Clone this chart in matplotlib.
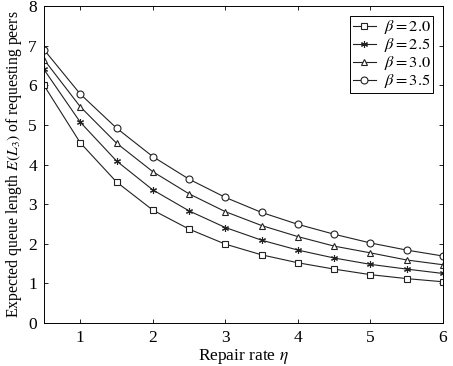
import matplotlib
matplotlib.use("Agg")
import matplotlib.pyplot as plt
import numpy as np

plt.rcParams["font.family"] = "Liberation Serif"
plt.rcParams["mathtext.fontset"] = "stix"

# data
eta = [0.5, 1.0, 1.5, 2.0, 2.5, 3.0, 3.5, 4.0, 4.5, 5.0, 5.5, 6.0]
beta_labels = [r"$\beta = 2.0$", r"$\beta = 2.5$", r"$\beta = 3.0$", r"$\beta = 3.5$"]
q_b20 = [6.00, 4.55, 3.56, 2.85, 2.37, 1.99, 1.72, 1.52, 1.36, 1.22, 1.12, 1.04]
q_b25 = [6.40, 5.07, 4.09, 3.36, 2.83, 2.41, 2.09, 1.84, 1.64, 1.48, 1.36, 1.25]
q_b30 = [6.65, 5.46, 4.54, 3.82, 3.26, 2.81, 2.46, 2.18, 1.94, 1.77, 1.59, 1.47]
q_b35 = [6.90, 5.78, 4.92, 4.20, 3.63, 3.17, 2.79, 2.49, 2.24, 2.02, 1.84, 1.69]
series = [q_b20, q_b25, q_b30, q_b35]
markers = ["s", (6, 2, 0), "^", "o"]
msizes = [3.8, 5.0, 4.8, 5.0]

fig = plt.figure(figsize=(4.53, 3.66), dpi=100)
ax = fig.add_axes([0.097, 0.1175, 0.881, 0.866])

for vals, m, ms, lab in zip(series, markers, msizes, beta_labels):
    ax.plot(eta, vals, color="#222222", linewidth=0.8, marker=m,
            markersize=ms, markerfacecolor="white",
            markeredgecolor="#222222", markeredgewidth=0.8, label=lab)

ax.set_xlim(0.5, 6)
ax.set_ylim(0, 8)
ax.set_xticks([1, 2, 3, 4, 5, 6])
ax.set_yticks(range(0, 9))
ax.tick_params(direction="in", top=True, right=True, labelsize=12.5,
               length=3, width=0.6, pad=5)
for s in ax.spines.values():
    s.set_linewidth(0.7)

ax.set_xlabel(r"Repair rate $\eta$", fontsize=12.5, labelpad=1)
ax.set_ylabel(r"Expected queue length $E(L_3)$ of requesting peers",
              fontsize=11.3, labelpad=3)

leg = ax.legend(loc="upper right", fontsize=11.8, fancybox=False,
                edgecolor="black", framealpha=1, handlelength=1.4,
                handletextpad=0.5, borderpad=0.15, labelspacing=0.0,
                borderaxespad=0.6)
leg.get_frame().set_linewidth(0.7)

fig.savefig("out.png", dpi=100)
